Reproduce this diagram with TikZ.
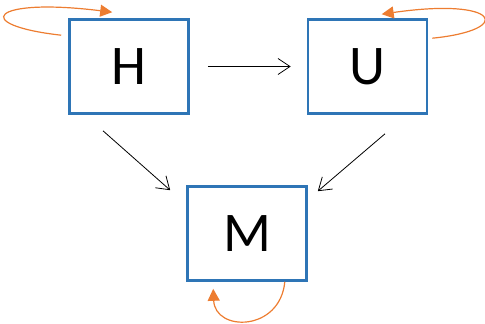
\documentclass[tikz,border=0pt]{standalone}
\usepackage{fontspec}
\setmainfont{Carlito}
\usetikzlibrary{arrows.meta,calc}
\definecolor{boxblue}{HTML}{2E75B6}
\definecolor{loopor}{HTML}{ED7D31}
\tikzset{
  statebox/.style={draw=boxblue, line width=2.6pt, fill=white,
    minimum width=119pt, minimum height=94pt, inner sep=0pt,
    font=\fontsize{56}{60}\selectfont},
  flow/.style={draw=black, line width=0.8pt,
    -{Straight Barb[length=12pt,width=16pt,line width=0.8pt]}},
  selfloop/.style={draw=loopor, line width=1.2pt,
    -{Triangle[length=12pt,width=12pt]}}
}
\begin{document}
\begin{tikzpicture}[x=1pt,y=-1pt]
  \useasboundingbox (0,0) rectangle (485,324);
  % the three states
  \node[statebox] (H) at (129,66.5) {H};
  \node[statebox] (U) at (367.5,66.5) {U};
  \node[statebox] (M) at (247,233.5) {M};
  % transitions between states
  \draw[flow, shorten <=18pt, shorten >=16pt] (H.east) -- (U.west);
  \coordinate (hm0) at ($(H.south)+(-26,16)$);
  \coordinate (hm1) at ($(M.north west)+(-16,5)$);
  \draw[flow] (hm0) -- (hm1);
  \coordinate (um0) at ($(U.south)+(17.5,19)$);
  \coordinate (um1) at ($(M.north east)+(10,6)$);
  \draw[flow] (um0) -- (um1);
  % self transitions
  \coordinate (h0) at ($(H.north west)+(-7,17)$);
  \coordinate (h1) at ($(H.north west)+(44,-6)$);
  \draw[selfloop] (h0) .. controls (-30,25) and (-10,-3) .. (h1);
  \coordinate (u0) at ($(U.north east)+(4,20)$);
  \coordinate (u1) at ($(U.north west)+(75,-4)$);
  \draw[selfloop] (u0) .. controls (515,30) and (500,-3) .. (u1);
  \coordinate (m0) at ($(M.south east)+(-23,0)$);
  \coordinate (m1) at ($(M.south west)+(27,7)$);
  \draw[selfloop] (m0) .. controls (280,332) and (215,332) .. (m1);
\end{tikzpicture}
\end{document}
